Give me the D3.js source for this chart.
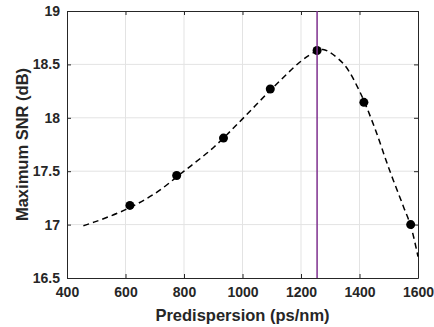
<!DOCTYPE html>
<html>
<head>
<meta charset="utf-8">
<script src="https://cdn.jsdelivr.net/npm/d3@7"></script>
<style>
  body { margin: 0; background: #fff; }
  svg { display: block; font-family: "Liberation Sans", Arial, sans-serif; }
  .tick text { font-size: 14px; font-weight: bold; fill: #262626; }
  .axis-label { font-size: 16.5px; font-weight: bold; fill: #262626; }
</style>
</head>
<body>
<svg id="chart" width="434" height="327"></svg>
<script>
// measured points (predispersion ps/nm, max SNR dB)
const pointX = [615, 775, 935, 1095, 1255, 1415, 1575];
const pointY = [17.18, 17.46, 17.81, 18.27, 18.63, 18.145, 17.0];

// dashed fit curve
const fitX = [456, 500, 600, 700, 800, 900, 1000, 1100, 1200, 1250, 1275, 1300, 1350, 1400, 1450, 1500, 1550, 1575, 1600];
const fitY = [16.99, 17.03, 17.14, 17.29, 17.5, 17.72, 17.99, 18.27, 18.53, 18.62, 18.64, 18.61, 18.49, 18.25, 17.92, 17.53, 17.17, 16.99, 16.70];

// vertical marker at the optimum
const optimumX = 1255;

const xTicks = [400, 600, 800, 1000, 1200, 1400, 1600];
const yTicks = [16.5, 17, 17.5, 18, 18.5, 19];

const svg = d3.select('#chart');
const area = {left: 67, right: 418, top: 11, bottom: 278};

const scales = {
  x: d3.scaleLinear().domain([400, 1600]).range([area.left, area.right]),
  y: d3.scaleLinear().domain([16.5, 19]).range([area.bottom, area.top])
};

// grid
const grid = svg.append('g').attr('class', 'grid');
grid.selectAll('.gx').data(xTicks.slice(1, -1)).enter().append('line')
  .attr('x1', d => scales.x(d)).attr('x2', d => scales.x(d))
  .attr('y1', area.top).attr('y2', area.bottom)
  .attr('stroke', '#e3e3e3').attr('stroke-width', 1);
grid.selectAll('.gy').data(yTicks.slice(1, -1)).enter().append('line')
  .attr('x1', area.left).attr('x2', area.right)
  .attr('y1', d => scales.y(d)).attr('y2', d => scales.y(d))
  .attr('stroke', '#e3e3e3').attr('stroke-width', 1);

// axes (ticks point inward, MATLAB-like box)
const axes = {
  bottom: d3.axisBottom(scales.x).tickValues(xTicks).tickSizeInner(-4).tickSizeOuter(0).tickPadding(9)
    .tickFormat(d3.format('d')),
  left: d3.axisLeft(scales.y).tickValues(yTicks).tickSizeInner(-4).tickSizeOuter(0).tickPadding(7)
    .tickFormat(d3.format('')),
  top: d3.axisTop(scales.x).tickValues(xTicks).tickSizeInner(-4).tickSizeOuter(0).tickFormat(''),
  right: d3.axisRight(scales.y).tickValues(yTicks).tickSizeInner(-4).tickSizeOuter(0).tickFormat('')
};

svg.append('g').attr('transform', `translate(0,${area.bottom})`).call(axes.bottom);
svg.append('g').attr('transform', `translate(${area.left},0)`).call(axes.left);
svg.append('g').attr('transform', `translate(0,${area.top})`).call(axes.top);
svg.append('g').attr('transform', `translate(${area.right},0)`).call(axes.right);
svg.selectAll('.domain, .tick line').attr('stroke', '#262626');

// curve
const line = d3.line()
  .x(d => scales.x(d[0]))
  .y(d => scales.y(d[1]))
  .curve(d3.curveCatmullRom);

svg.append('path')
  .datum(d3.zip(fitX, fitY))
  .attr('d', line)
  .attr('fill', 'none')
  .attr('stroke', '#000')
  .attr('stroke-width', 1.5)
  .attr('stroke-dasharray', '6,4');

// points
svg.selectAll('.pt').data(d3.zip(pointX, pointY)).enter().append('circle')
  .attr('cx', d => scales.x(d[0]))
  .attr('cy', d => scales.y(d[1]))
  .attr('r', 4.5)
  .attr('fill', '#000');

// optimum line
svg.append('line')
  .attr('x1', scales.x(optimumX)).attr('x2', scales.x(optimumX))
  .attr('y1', area.top).attr('y2', area.bottom)
  .attr('stroke', '#7E2F8E').attr('stroke-width', 1.5);

// labels
svg.append('text').attr('class', 'axis-label')
  .attr('text-anchor', 'middle')
  .attr('x', (area.left + area.right) / 2).attr('y', 321)
  .text('Predispersion (ps/nm)');
svg.append('text').attr('class', 'axis-label')
  .attr('text-anchor', 'middle')
  .attr('transform', `translate(28,${(area.top + area.bottom) / 2}) rotate(-90)`)
  .text('Maximum SNR (dB)');
</script>
</body>
</html>
